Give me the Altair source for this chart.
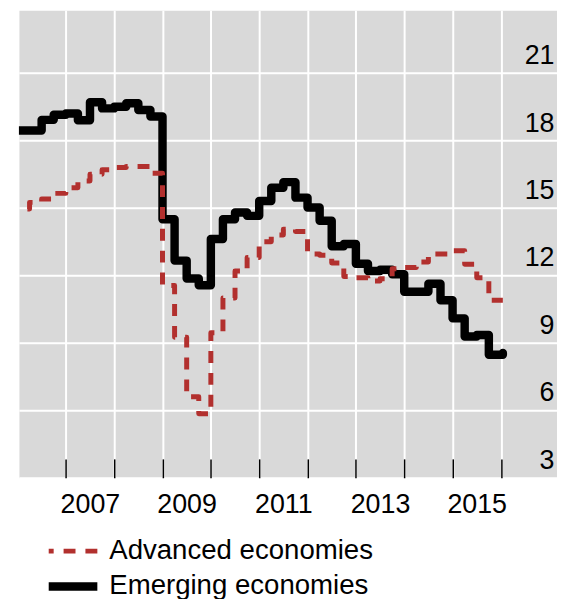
import altair as alt
import pandas as pd

series_names = ["Advanced economies", "Emerging economies"]

quarters = [
    "2006Q1", "2006Q2", "2006Q3", "2006Q4",
    "2007Q1", "2007Q2", "2007Q3", "2007Q4",
    "2008Q1", "2008Q2", "2008Q3", "2008Q4",
    "2009Q1", "2009Q2", "2009Q3", "2009Q4",
    "2010Q1", "2010Q2", "2010Q3", "2010Q4",
    "2011Q1", "2011Q2", "2011Q3", "2011Q4",
    "2012Q1", "2012Q2", "2012Q3", "2012Q4",
    "2013Q1", "2013Q2", "2013Q3", "2013Q4",
    "2014Q1", "2014Q2", "2014Q3", "2014Q4",
    "2015Q1", "2015Q2", "2015Q3", "2015Q4",
]
end_time = 2016.04

emerging = [
    18.45, 18.45, 18.92, 19.15,
    19.20, 18.90, 19.70, 19.43,
    19.50, 19.66, 19.36, 19.07,
    14.50, 12.66, 11.86, 11.56,
    13.62, 14.50, 14.80, 14.65,
    15.31, 15.90, 16.15, 15.46,
    15.02, 14.43, 13.30, 13.40,
    12.52, 12.20, 12.25, 12.05,
    11.27, 11.27, 11.63, 10.90,
    10.09, 9.28, 9.35, 8.47,
]
emerging_end = 8.55

advanced = [
    14.95, 15.25, 15.40, 15.65,
    15.90, 16.20, 16.50, 16.70,
    16.80, 16.85, 16.85, 16.55,
    11.55, 9.25, 6.60, 5.85,
    9.45, 11.00, 12.20, 12.80,
    13.50, 13.80, 14.05, 13.95,
    12.95, 12.90, 12.55, 11.95,
    11.90, 11.75, 11.85, 12.30,
    12.35, 12.60, 12.95, 12.95,
    13.10, 12.50, 11.90, 10.90,
]
advanced_end = 10.90

year_ticks = [2007, 2008, 2009, 2010, 2011, 2012, 2013, 2014, 2015, 2016]
value_ticks = [3, 6, 9, 12, 15, 18, 21]


def q_to_year(q):
    return int(q[:4]) + (int(q[5]) - 1) / 4.0


rows = []
for name, vals, last in [("Advanced economies", advanced, advanced_end),
                         ("Emerging economies", emerging, emerging_end)]:
    for q, v in zip(quarters, vals):
        rows.append({"series": name, "t": q_to_year(q), "v": v})
    rows.append({"series": name, "t": end_time, "v": last})
df = pd.DataFrame(rows)

FONT = "Liberation Sans"

x_enc = alt.X(
    "t:Q",
    title=None,
    scale=alt.Scale(domain=[2006.03, 2017.16], nice=False, zero=False),
    axis=alt.Axis(
        values=year_ticks, grid=True, gridColor="white", gridWidth=2,
        domain=False, ticks=True, tickColor="black", tickWidth=1.5, tickSize=19,
        offset=-19, labelPadding=14, labelOffset=24.3, format="d",
        labelExpr="datum.value % 2 == 1 ? datum.label : ''",
        labelFontSize=27, labelColor="black", labelFont=FONT,
        labelFlush=False, labelOverlap=False,
    ),
)
y_enc = alt.Y(
    "v:Q",
    title=None,
    scale=alt.Scale(domain=[3, 23.8], nice=False, zero=False),
    axis=alt.Axis(
        orient="right", values=value_ticks, grid=True, gridColor="white", gridWidth=2,
        domain=False, ticks=False, tickSize=0, labelAlign="right", labelPadding=-3,
        labelBaseline="alphabetic", labelOffset=-9.5,
        labelFontSize=27, labelColor="black", labelFont=FONT,
        labelFlush=False, labelOverlap=False,
    ),
)
color_enc = alt.Color(
    "series:N", title=None,
    scale=alt.Scale(domain=series_names, range=["#b2302e", "#000000"]),
    legend=alt.Legend(
        orient="none", legendX=40, legendY=531, direction="vertical",
        symbolType="M2.5,0L-2.5,0", symbolSize=384, labelOffset=22,
        rowPadding=4, padding=0, labelFontSize=27.8, labelColor="black",
        labelFont=FONT, labelLimit=0,
    ),
)
dash_enc = alt.StrokeDash(
    "series:N", title=None,
    scale=alt.Scale(domain=series_names, range=[[12, 10], [1, 0]]),
)
width_enc = alt.StrokeWidth(
    "series:N", title=None,
    scale=alt.Scale(domain=series_names, range=[5, 8.5]),
)

base = alt.Chart(df).encode(
    x=x_enc, y=y_enc, color=color_enc, strokeDash=dash_enc, strokeWidth=width_enc
)

emer = base.transform_filter(alt.datum.series == "Emerging economies").mark_line(
    interpolate="step-after", strokeCap="round", strokeJoin="round", clip=True
)
adv = base.transform_filter(alt.datum.series == "Advanced economies").mark_line(
    interpolate="step-after", strokeCap="butt", strokeJoin="round",
    strokeDashOffset=12, clip=True
)

chart = alt.layer(emer, adv).properties(
    width=542, height=471,
    padding={"left": 11, "top": 0, "right": 0, "bottom": 0},
).configure(font=FONT).configure_view(fill="#d9d9d9", stroke="transparent")

chart.save("out.html", embed_options={"renderer": "svg", "actions": False})
